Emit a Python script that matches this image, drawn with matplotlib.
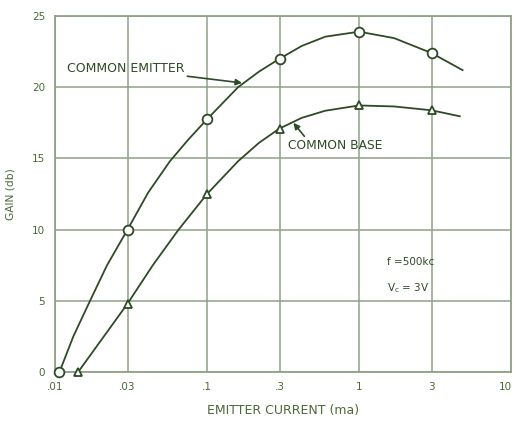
import matplotlib
matplotlib.use("Agg")
import matplotlib.pyplot as plt
import matplotlib.transforms as mtransforms

# values
ce_curve_x = [0.0107, 0.0132, 0.017, 0.022, 0.03, 0.041, 0.057, 0.075, 0.1, 0.16, 0.22, 0.3, 0.42, 0.6, 1.0, 1.7, 3.0, 4.8]
ce_curve_y = [0.0, 2.5, 5.0, 7.5, 10.0, 12.6, 14.8, 16.3, 17.75, 20.0, 21.1, 22.0, 22.9, 23.55, 23.9, 23.45, 22.4, 21.2]
ce_pts_x = [0.0107, 0.03, 0.1, 0.3, 1.0, 3.0]
ce_pts_y = [0.0, 10.0, 17.75, 22.0, 23.9, 22.4]

cb_curve_x = [0.0142, 0.03, 0.044, 0.065, 0.1, 0.16, 0.22, 0.3, 0.42, 0.6, 1.0, 1.7, 3.0, 4.6]
cb_curve_y = [0.0, 4.8, 7.5, 10.0, 12.5, 14.8, 16.1, 17.1, 17.85, 18.35, 18.72, 18.65, 18.38, 17.96]
cb_pts_x = [0.0142, 0.03, 0.1, 0.3, 1.0, 3.0]
cb_pts_y = [0.0, 4.8, 12.5, 17.1, 18.72, 18.38]

x_ticks = [0.01, 0.03, 0.1, 0.3, 1, 3, 10]
x_labels = [".01", ".03", ".1", ".3", "1", "3", "10"]
y_ticks = [0, 5, 10, 15, 20, 25]

LINE = "#2f4a26"
GRID = "#8fa286"
TEXT = "#4b6a38"

fig = plt.figure(figsize=(5.13, 4.24), dpi=100)
ax = fig.add_axes([0.1072, 0.1226, 0.889, 0.8396])

ax.set_xscale("log")
ax.set_xlim(0.01, 10)
ax.set_ylim(0, 25)
ax.set_xticks(x_ticks)
ax.set_xticklabels(x_labels)
ax.xaxis.set_minor_locator(matplotlib.ticker.NullLocator())
ax.set_yticks(y_ticks)
ax.tick_params(length=0, colors=TEXT, labelsize=7.5, pad=7)
ax.grid(True, color=GRID, linewidth=1.1)
for s in ax.spines.values():
    s.set_color(GRID)
    s.set_linewidth(1.3)

# keep the last x label inside the canvas
last = ax.get_xticklabels()[-1]
last.set_transform(last.get_transform() + mtransforms.ScaledTranslation(-4 / 72, 0, fig.dpi_scale_trans))

ax.plot(ce_curve_x, ce_curve_y, color=LINE, lw=1.3, zorder=3)
ax.plot(cb_curve_x, cb_curve_y, color=LINE, lw=1.3, zorder=3)
ax.plot(ce_pts_x, ce_pts_y, "o", ms=7, mfc="white", mec=LINE, mew=1.3, zorder=4, clip_on=False)
ax.plot(cb_pts_x, cb_pts_y, "^", ms=6, mfc="white", mec=LINE, mew=1.3, zorder=4, clip_on=False)

arrow = dict(arrowstyle="-|>", color=LINE, lw=1.2, mutation_scale=9, shrinkA=0, shrinkB=0)
ax.annotate("COMMON EMITTER", xy=(0.17, 20.3), xytext=(0.012, 21.3),
            color=LINE, fontsize=9, va="center", ha="left", arrowprops=arrow)
ax.annotate("COMMON BASE", xy=(0.37, 17.5), xytext=(0.34, 15.9),
            color=LINE, fontsize=8.8, va="center", ha="left",
            arrowprops=dict(arrow, relpos=(0.2, 1.0)))

ax.text(1.53, 7.7, "f =500kc", color=LINE, fontsize=7.5, va="center")
ax.text(1.53, 5.9, r"V$_{\rm c}$ = 3V", color=LINE, fontsize=7.5, va="center")

ax.set_xlabel("EMITTER CURRENT (ma)", color=TEXT, fontsize=9, labelpad=9)
ax.set_ylabel("GAIN (db)", color=TEXT, fontsize=7.7, labelpad=12)

fig.savefig("out.png", dpi=100)
